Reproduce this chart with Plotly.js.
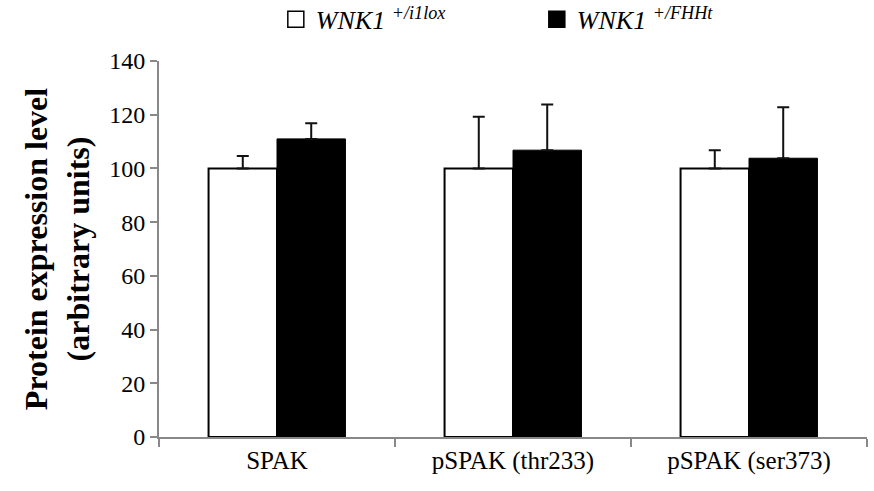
<!DOCTYPE html>
<html>
<head>
<meta charset="utf-8">
<script src="https://cdn.plot.ly/plotly-3.0.1.min.js"></script>
<style>html,body{margin:0;padding:0;background:#fff;}#chart{width:874px;height:491px;}</style>
</head>
<body>
<div id="chart"></div>
<script>
const categories = ["SPAK", "pSPAK (thr233)", "pSPAK (ser373)"];
const seriesNames = ["<i>WNK1</i> <sup><i>+/i1lox</i></sup>", "<i>WNK1</i> <sup><i>+/FHHt</i></sup>"];
const controlValues = [100, 100, 100];
const controlErrors = [4.6, 19.2, 6.8];
const fhhtValues = [111, 106.8, 103.8];
const fhhtErrors = [5.8, 17.0, 19.0];
const yTicks = [0, 20, 40, 60, 80, 100, 120, 140];
const fills = ['#ffffff', '#000000'];

const FONT = 'Liberation Serif';

const errStyle = (arr) => ({type: 'data', array: arr, arrayminus: arr.map(() => 0), symmetric: false, color: '#111', thickness: 2, width: 6});

const traces = [
  {type: 'bar', name: seriesNames[0], x: categories, y: controlValues, error_y: errStyle(controlErrors),
   marker: {color: fills[0], line: {color: '#000', width: 2}}, showlegend: false},
  {type: 'bar', name: seriesNames[1], x: categories, y: fhhtValues, error_y: errStyle(fhhtErrors),
   marker: {color: fills[1], line: {color: '#000', width: 1}}, showlegend: false},
  {type: 'scatter', mode: 'markers', name: seriesNames[0], x: [null], y: [null],
   marker: {symbol: 'square', size: 16, color: fills[0], line: {color: '#000', width: 1.5}}, hoverinfo: 'skip'},
  {type: 'scatter', mode: 'markers', name: seriesNames[1], x: [null], y: [null],
   marker: {symbol: 'square', size: 16, color: fills[1], line: {color: '#000', width: 1.5}}, hoverinfo: 'skip'}
];

const layout = {
  width: 874, height: 491,
  margin: {l: 159, r: 7, t: 61, b: 54, autoexpand: false},
  paper_bgcolor: '#fff', plot_bgcolor: '#fff',
  font: {family: FONT, color: '#000', size: 24},
  barmode: 'group', bargap: 0.42, bargroupgap: 0,
  showlegend: true,
  legend: {orientation: 'h', x: 0.165, xanchor: 'left', y: 1.173, yanchor: 'top',
           font: {family: FONT, size: 26}, itemsizing: 'trace', entrywidth: 216, entrywidthmode: 'pixels', traceorder: 'normal'},
  xaxis: {type: 'category', showline: true, linecolor: '#888', linewidth: 2,
          ticks: 'outside', tickson: 'boundaries', ticklen: 8, tickcolor: '#888', tickwidth: 2,
          tickfont: {family: FONT, size: 25}, showgrid: false, zeroline: false},
  yaxis: {range: [0, 140], tickvals: yTicks, ticktext: yTicks.map(String), showline: true, linecolor: '#888', linewidth: 2,
          ticks: 'outside', ticklen: 7, tickcolor: '#888', tickwidth: 2, showgrid: false, zeroline: false,
          tickfont: {family: FONT, size: 24},
          title: {text: '<b>Protein expression level</b><br><b>(arbitrary units)</b>', font: {family: FONT, size: 32}, standoff: 10}}
};

Plotly.newPlot('chart', traces, layout, {displayModeBar: false, staticPlot: true});
</script>
</body>
</html>
